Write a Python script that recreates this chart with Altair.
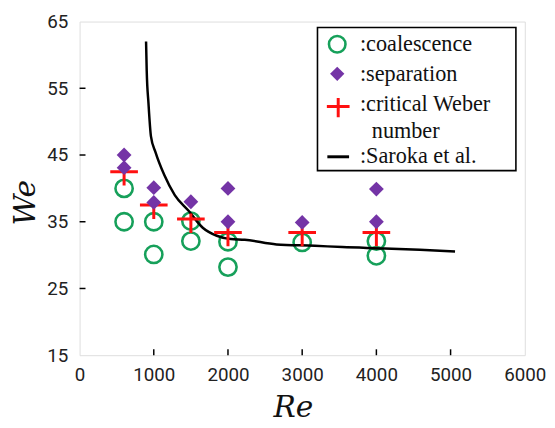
import altair as alt
import pandas as pd

# ---- data ----
coal_re = [600, 600, 1000, 1000, 1500, 1500, 2000, 2000, 3000, 4000, 4000]
coal_we = [40, 35, 35, 30.1, 35.1, 32.1, 32, 28.2, 31.9, 32.1, 29.9]

sep_re = [600, 600, 1000, 1000, 1500, 2000, 2000, 3000, 4000, 4000]
sep_we = [45, 43.1, 40.1, 37.9, 38, 40, 35, 34.9, 39.9, 35]

crit_re = [600, 1000, 1500, 2000, 3000, 4000]
crit_we = [42.5, 37.5, 35.4, 33.4, 33.4, 33.4]

sar_re = [896, 905, 929, 962, 1024, 1142, 1283, 1472, 1660, 1849, 2038, 2226, 2654, 3170, 3541, 4113, 4585, 5060]
sar_we = [62, 57.6, 52.7, 47.8, 45.4, 42, 39, 36.6, 34.1, 32.9, 32.4, 32.3, 31.6, 31.4, 31.2, 31.0, 30.8, 30.55]

x_ticks = [0, 1000, 2000, 3000, 4000, 5000, 6000]
y_ticks = [15, 25, 35, 45, 55, 65]
x_inner = [1000, 2000, 3000, 4000, 5000]
y_inner = [25, 35, 45, 55]

legend_labels = [":coalescence", ":separation", ":critical Weber", "number", ":Saroka et al."]

GREEN = "#16a05a"
PURPLE = "#7434a6"
RED = "#ff1010"

W, H = 451, 338

coal = pd.DataFrame({"Re": coal_re, "We": coal_we})
sep = pd.DataFrame({"Re": sep_re, "We": sep_we})
crit = pd.DataFrame({"Re": crit_re, "We": crit_we})
sar = pd.DataFrame({"Re": sar_re, "We": sar_we})

xs = alt.Scale(domain=[0, 6000], nice=False, zero=False)
ys = alt.Scale(domain=[15, 65], nice=False, zero=False)

LABEL_FONT = "Roboto"

x_enc = alt.X("Re:Q", scale=xs, axis=alt.Axis(
    values=x_ticks, title="Re", format="d", ticks=False, tickSize=0, domain=False, grid=False,
    labelFont=LABEL_FONT, labelFontSize=19, labelColor="#222", labelPadding=11,
    labelFlush=False, labelOverlap=False,
    titleFont="DejaVu Serif", titleFontStyle="italic", titleFontWeight="normal",
    titleFontSize=30, titleColor="#111", titlePadding=8, titleX=216))
y_enc = alt.Y("We:Q", scale=ys, axis=alt.Axis(
    values=y_ticks, title="We", format="d", ticks=False, tickSize=0, domain=False, grid=False,
    labelFont=LABEL_FONT, labelFontSize=19, labelColor="#222", labelPadding=12,
    labelFlush=False, labelOverlap=False,
    titleFont="DejaVu Serif", titleFontStyle="italic", titleFontWeight="normal",
    titleFontSize=30, titleColor="#111", titleAngle=270, titleAlign="center",
    titleBaseline="middle", titleX=-55, titleY=183))

CROSS = "M-1,0L1,0M0,-0.4L0,1.0"
CROSS_LEG = "M-1,0L1,0M0,-0.75L0,0.95"

circles = alt.Chart(coal).mark_point(shape="circle", filled=False, size=306,
                                     stroke=GREEN, strokeWidth=2.6, opacity=1).encode(x=x_enc, y=y_enc)
line = alt.Chart(sar).mark_line(color="black", strokeWidth=2.5, interpolate="monotone").encode(
    x="Re:Q", y="We:Q")
crosses = alt.Chart(crit).mark_point(shape=CROSS, filled=False, size=784,
                                     stroke=RED, strokeWidth=3, opacity=1).encode(x="Re:Q", y="We:Q")
diamonds = alt.Chart(sep).mark_point(shape="diamond", filled=True, size=225,
                                     fill=PURPLE, opacity=1, strokeWidth=0).encode(x="Re:Q", y="We:Q")

xt = alt.Chart(pd.DataFrame({"Re": x_inner})).mark_rule(color="black", strokeWidth=1.5).encode(
    x="Re:Q", y=alt.value(H), y2=alt.value(H - 6))
yt = alt.Chart(pd.DataFrame({"We": y_inner})).mark_rule(color="black", strokeWidth=1.5).encode(
    y="We:Q", x=alt.value(0), x2=alt.value(6))

one = alt.Data(values=[{"a": 1}])

box = alt.Chart(one).mark_rect(fill="white", stroke="black", strokeWidth=1.6).encode(
    x=alt.value(241), x2=alt.value(442), y=alt.value(6), y2=alt.value(151))

leg_circle = alt.Chart(one).mark_point(shape="circle", filled=False, size=280, stroke=GREEN,
                                       strokeWidth=2.6, opacity=1).encode(x=alt.value(261), y=alt.value(23))
leg_diamond = alt.Chart(one).mark_point(shape="diamond", filled=True, size=210, fill=PURPLE,
                                        strokeWidth=0, opacity=1).encode(x=alt.value(261), y=alt.value(53))
leg_cross = alt.Chart(one).mark_point(shape=CROSS_LEG, filled=False, size=529, stroke=RED,
                                      strokeWidth=3, opacity=1).encode(x=alt.value(262), y=alt.value(86))
leg_line = alt.Chart(one).mark_rule(color="black", strokeWidth=3).encode(
    x=alt.value(251), x2=alt.value(273), y=alt.value(137))

def leg_text(label, x, y):
    return alt.Chart(one).mark_text(align="left", baseline="middle", font="Liberation Serif",
                                    fontSize=22.5, color="#111").encode(
        x=alt.value(x), y=alt.value(y), text=alt.value(label))

texts = [
    leg_text(legend_labels[0], 284, 23),
    leg_text(legend_labels[1], 284, 53),
    leg_text(legend_labels[2], 284, 84),
    leg_text(legend_labels[3], 296, 111),
    leg_text(legend_labels[4], 284, 136),
]

chart = alt.layer(circles, line, crosses, diamonds, xt, yt, box,
                  leg_circle, leg_diamond, leg_cross, leg_line, *texts).properties(
    width=W, height=H,
    padding={"left": 72.5, "top": 11, "right": 22.5, "bottom": 70},
    autosize=alt.AutoSizeParams(type="none"),
).configure_view(stroke="black", strokeWidth=1.6).configure(background="white")

chart.save("out.html", embed_options={"renderer": "svg", "actions": False})
